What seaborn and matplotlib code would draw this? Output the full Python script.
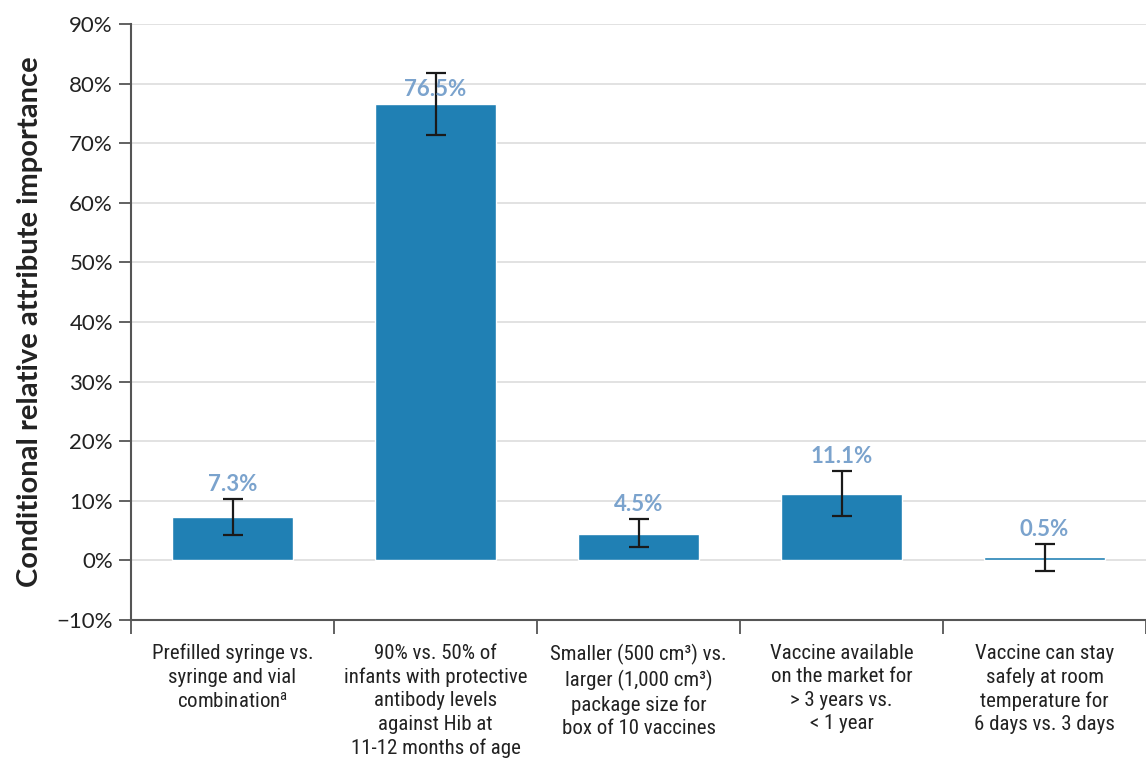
import numpy as np
import pandas as pd
import matplotlib
matplotlib.use("Agg")
import matplotlib.pyplot as plt
import seaborn as sns
from matplotlib.ticker import FuncFormatter

categories = [
    "Prefilled syringe vs.\nsyringe and vial\ncombination$^{\\mathregular{a}}$",
    "90% vs. 50% of\ninfants with protective\nantibody levels\nagainst Hib at\n11-12 months of age",
    "Smaller (500 cm\u00b3) vs.\nlarger (1,000 cm\u00b3)\npackage size for\nbox of 10 vaccines",
    "Vaccine available\non the market for\n> 3 years vs.\n< 1 year",
    "Vaccine can stay\nsafely at room\ntemperature for\n6 days vs. 3 days",
]
values = [7.3, 76.5, 4.5, 11.1, 0.5]
err_low = [4.3, 71.4, 2.3, 7.4, -1.7]
err_high = [10.3, 81.8, 6.9, 15.0, 2.8]
value_labels = ["7.3%", "76.5%", "4.5%", "11.1%", "0.5%"]
yticks = [-10, 0, 10, 20, 30, 40, 50, 60, 70, 80, 90]

sns.set_theme(style="white")
plt.rcParams["font.family"] = ["Lato", "DejaVu Sans"]
plt.rcParams["mathtext.fontset"] = "custom"
plt.rcParams["mathtext.rm"] = "Roboto Condensed"
plt.rcParams["mathtext.it"] = "Roboto Condensed"

df = pd.DataFrame({"cat": categories, "val": values})

fig = plt.figure(figsize=(11.46, 7.61), dpi=100)
ax = fig.add_axes([131 / 1146, 1 - 620 / 761, 1 - 131 / 1146, (620 - 24) / 761])

sns.barplot(data=df, x="cat", y="val", color="#2080b4", saturation=1, width=0.6, ax=ax, zorder=2)

x = np.arange(len(values))
v = np.array(values)
lo = np.array(err_low)
hi = np.array(err_high)
ax.errorbar(x, v, yerr=[v - lo, hi - v], fmt="none", ecolor="#1a1a1a", elinewidth=1.6,
            capsize=7, capthick=1.6, zorder=3)

for xi, vi, hi_i, lab in zip(x, v, hi, value_labels):
    base = vi if vi > 50 else hi_i
    ax.annotate(lab, (xi, base), xytext=(0, 3), textcoords="offset points",
                ha="center", va="bottom", fontsize=16, fontweight="bold",
                color="#7ba3cd", zorder=4)

ax.set_ylim(-10, 90)
ax.set_yticks(yticks)
ax.yaxis.set_major_formatter(FuncFormatter(lambda t, p: f"{int(t)}%".replace("-", "\u2212")))
ax.set_xlim(-0.5, 4.43)

ax.yaxis.grid(True, color="#dddddd", linewidth=1.2, zorder=0)
ax.set_axisbelow(True)

for s in ["top", "right"]:
    ax.spines[s].set_visible(False)
for s in ["left", "bottom"]:
    ax.spines[s].set_color("#555555")
    ax.spines[s].set_linewidth(1.5)

ax.tick_params(axis="y", which="major", left=True, length=9, width=1.3, color="#555555",
               labelsize=16, labelcolor="#222222", pad=4)

# x: category labels centered, tick marks at boundaries
ax.set_xticks(x)
ax.set_xticklabels(categories, fontsize=15, family=["Roboto Condensed", "DejaVu Sans"],
                   color="#222222", linespacing=1.3)
ax.tick_params(axis="x", which="major", bottom=False, pad=11)
ax.set_xticks(np.arange(-0.5, 4.6, 1.0), minor=True)
ax.tick_params(axis="x", which="minor", bottom=True, length=10, width=1.3, color="#555555")

ax.set_xlabel("")
ax.set_ylabel("Conditional relative attribute importance", fontsize=21, fontweight="bold",
              color="#222222", labelpad=10)

fig.savefig("out.png", dpi=100)
